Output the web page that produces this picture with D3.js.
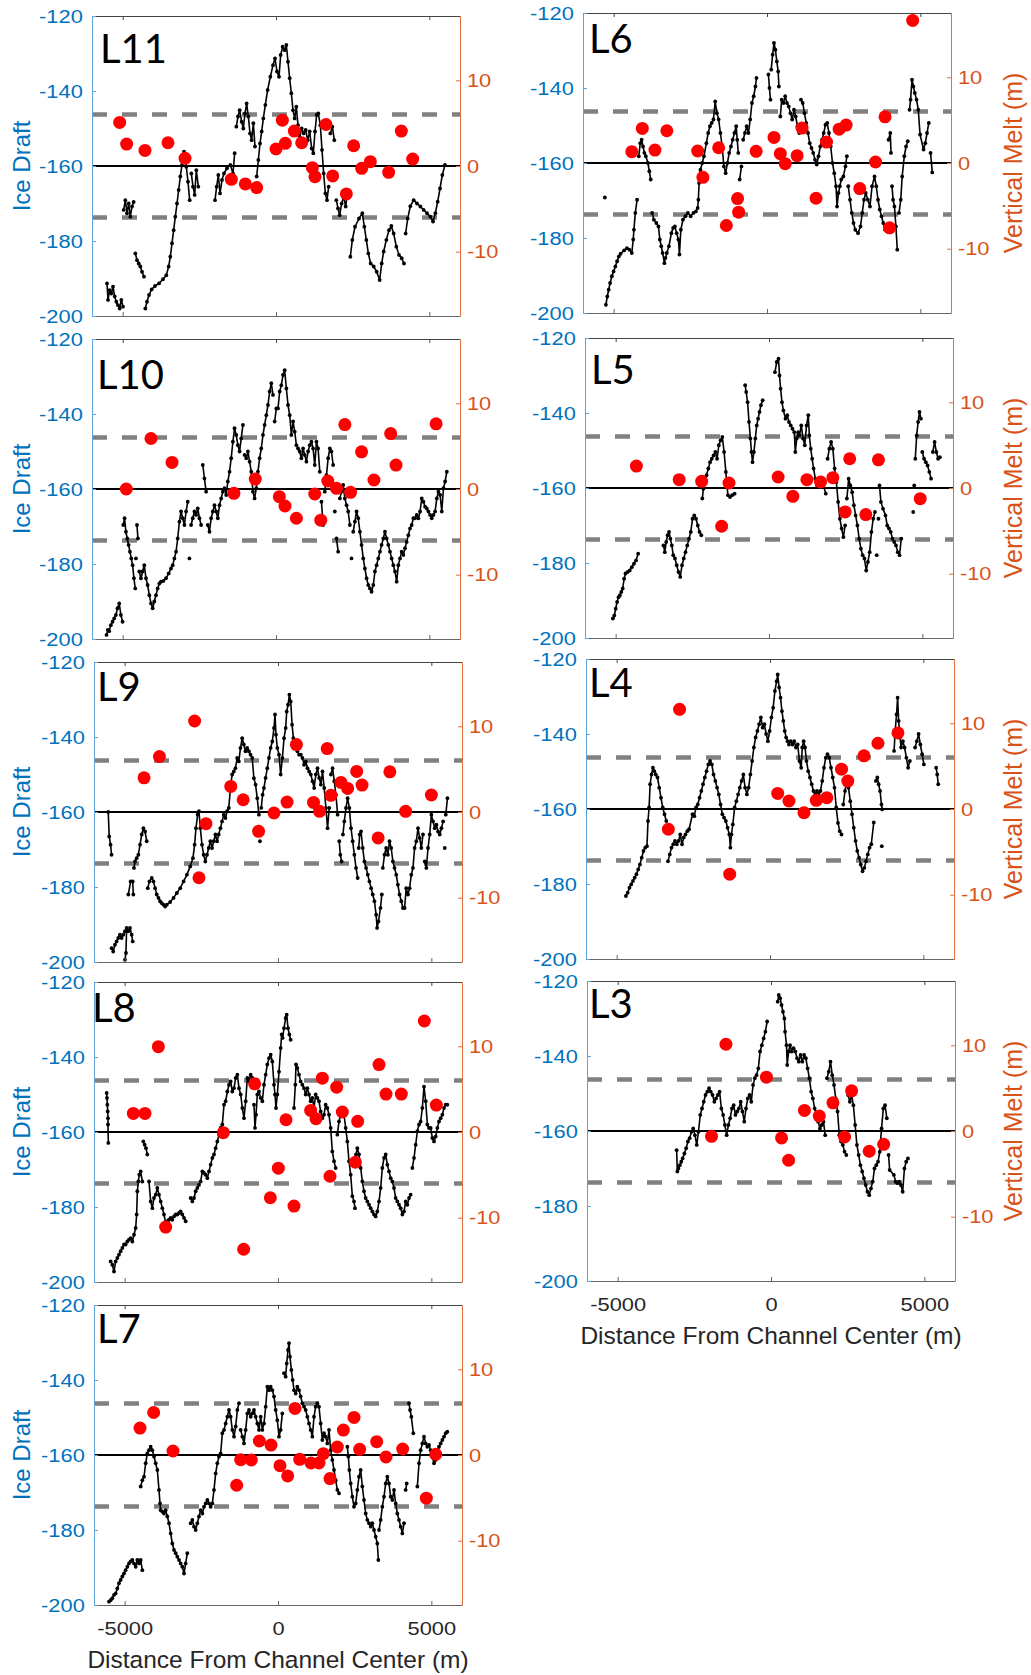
<!DOCTYPE html>
<html>
<head>
<meta charset="utf-8">
<script src="https://cdn.jsdelivr.net/npm/d3@7"></script>
<style>
  body { margin: 0; background: #fff; }
  svg text { font-family: "Liberation Sans", Arial, sans-serif; }
  svg text.tag { font-family: Lato, "Open Sans", sans-serif; }
</style>
</head>
<body>
<svg id="fig" width="1031" height="1675"></svg>
<script>
// ice draft profiles [distance m, draft m] and vertical melt points [distance m, melt m]
var l11Draft = [[-5511,-191.3],[-5478,-195.7],[-5424,-193.1],[-5370,-194],[-5315,-192.2],[-5261,-194.8],[-5207,-196.2],[-5152,-197.1],[-5098,-198],[-5044,-195.7],[-4989,-197.5],[-4968,-171.7],[-4913,-169.1],[-4859,-172.6],[-4805,-170],[-4750,-173.5],[-4696,-170.8],[-4641,-169.6],[-4587,-183.3],[-4533,-185.1],[-4478,-186],[-4424,-186.8],[-4370,-188.2],[-4304,-189.5],[-4261,-198],[-4207,-196.2],[-4141,-194.4],[-4054,-192.9],[-3946,-192],[-3815,-191.3],[-3685,-190.2],[-3576,-189.1],[-3500,-186.8],[-3446,-184.2],[-3391,-180.6],[-3337,-177.1],[-3283,-173.5],[-3228,-170],[-3174,-166.4],[-3120,-162.8],[-3065,-159.7],[-3000,-156.2],[-2924,-160.2],[-2870,-164.2],[-2815,-169.1],[-2761,-162],[-2707,-165.5],[-2652,-167.7],[-2598,-161.1],[-2533,-165.5],[-1989,-169.1],[-1935,-165.5],[-1881,-162.4],[-1826,-167.3],[-1761,-163.7],[-1696,-162],[-1598,-160.6],[-1489,-159.7],[-1402,-162],[-1348,-156.6],[-1294,-149.5],[-1239,-146.8],[-1185,-145.1],[-1120,-148.2],[-1065,-150],[-1011,-146],[-957,-143.3],[-902,-146.8],[-848,-151.3],[-794,-153.1],[-739,-148.6],[-685,-154.8],[-630,-162.8],[-576,-158.4],[-522,-154],[-467,-150.8],[-413,-147.3],[-348,-143.7],[-272,-139.7],[-185,-136.2],[-98,-133.1],[-33,-131.3],[33,-134.8],[98,-136.2],[152,-130.4],[217,-128.2],[283,-129.1],[337,-127.7],[391,-132.2],[446,-136.6],[500,-140.6],[554,-145.1],[609,-147.3],[663,-144.2],[717,-149.1],[772,-152.2],[837,-150],[902,-151.3],[967,-150.4],[1033,-153.1],[1098,-150.8],[1163,-155.3],[1217,-156.6],[1272,-150.8],[1326,-146.4],[1380,-146],[1446,-149.1],[1500,-155.7],[1554,-162],[1609,-167.3],[1663,-169.1],[1717,-165.5],[1772,-151.3],[1837,-149.5],[1902,-153.1],[1967,-169.1],[2022,-171.3],[2076,-173.1],[2141,-170],[2207,-168.2],[2272,-170.8],[2337,-166.8],[2424,-184.2],[2489,-179.7],[2576,-176.2],[2707,-174],[2815,-172.6],[2881,-176.2],[2946,-179.7],[3011,-183.3],[3087,-186],[3185,-186.8],[3283,-188.2],[3381,-190.4],[3446,-186],[3511,-182.8],[3598,-179.7],[3685,-177.1],[3761,-176],[3837,-178],[3924,-181.5],[4011,-183.7],[4098,-184.6],[4174,-186],[4228,-178],[4294,-174],[4381,-170.7],[4489,-169.1],[4598,-170],[4707,-170.8],[4815,-171.7],[4924,-172.6],[5033,-173.5],[5120,-174.8],[5196,-172.6],[5272,-169.5],[5348,-166],[5424,-162.4],[5511,-159.7]];
var l11Melt = [[-5098,5.08],[-4870,2.56],[-4272,1.82],[-3522,2.71],[-2967,0.89],[-1457,-1.55],[-1000,-2.09],[-630,-2.52],[0,1.98],[207,5.35],[304,2.64],[598,4.07],[837,2.71],[1185,-0.19],[1272,-1.24],[1630,4.84],[1848,-1.16],[2294,-3.26],[2533,2.36],[2794,-0.27],[3076,0.5],[3674,-0.74],[4087,4.07],[4457,0.81]];

var l10Draft = [[-5526,-198.9],[-5483,-197.6],[-5439,-197.9],[-5385,-196.3],[-5330,-195.4],[-5276,-194.5],[-5221,-193.6],[-5167,-191.8],[-5112,-190.5],[-5058,-193.6],[-5003,-195.4],[-4981,-169.6],[-4938,-167.8],[-4894,-171.4],[-4851,-173.2],[-4807,-174.9],[-4763,-176.7],[-4720,-178.5],[-4676,-180.3],[-4633,-183.8],[-4589,-186.5],[-4567,-178.5],[-4534,-169.6],[-4502,-173.2],[-4458,-182],[-4404,-183.8],[-4349,-182],[-4295,-180.3],[-4240,-183.8],[-4186,-185.6],[-4131,-188.3],[-4077,-190.5],[-4022,-191.8],[-3968,-190],[-3913,-188.3],[-3859,-186.5],[-3804,-185.2],[-3750,-184.7],[-3673,-184.5],[-3586,-183.8],[-3499,-182.5],[-3423,-181.2],[-3368,-180.3],[-3314,-178.5],[-3259,-176.7],[-3205,-173.2],[-3150,-168.7],[-3096,-166],[-3041,-167.8],[-2987,-169.6],[-2932,-166],[-2878,-163.4],[-2823,-178.5],[-2769,-169.6],[-2714,-167.8],[-2660,-166],[-2605,-166.9],[-2551,-165.2],[-2496,-167.8],[-2442,-169.6],[-2387,-153.6],[-2333,-157.2],[-2278,-160.7],[-2224,-169.6],[-2169,-171.4],[-2115,-167.8],[-2060,-166],[-2006,-164.3],[-1951,-166],[-1897,-167.8],[-1842,-164.3],[-1788,-162.5],[-1733,-160.7],[-1679,-159.8],[-1624,-161.6],[-1570,-158],[-1515,-155.4],[-1461,-151.8],[-1406,-147.4],[-1352,-143.8],[-1297,-145.6],[-1243,-148.3],[-1188,-150],[-1134,-146.5],[-1079,-142.9],[-1025,-150.9],[-970,-151.8],[-916,-150],[-861,-152.7],[-807,-155.4],[-752,-160.7],[-698,-162.5],[-643,-159.8],[-589,-155.4],[-534,-151.8],[-480,-149.2],[-425,-145.6],[-371,-142.9],[-316,-140.3],[-262,-137.6],[-207,-134],[-153,-131.8],[-98,-134.9],[-44,-142],[11,-138.5],[65,-138.5],[120,-134],[174,-132.3],[229,-129.6],[283,-128.3],[338,-133.2],[392,-137.6],[447,-140.3],[501,-145.6],[556,-142],[610,-144.7],[665,-148.3],[719,-149.2],[774,-150],[828,-151.8],[883,-149.2],[937,-150.9],[992,-152.7],[1046,-150],[1101,-148.3],[1155,-147.4],[1210,-149.2],[1264,-153.6],[1319,-147.4],[1373,-149.2],[1428,-155.4],[1482,-163.4],[1537,-169.6],[1591,-160.7],[1646,-156.3],[1700,-151.8],[1755,-149.2],[1809,-150],[1864,-153.6],[1918,-166],[1973,-173.2],[2027,-176.7],[2082,-162.5],[2136,-160.7],[2191,-158.9],[2245,-162.5],[2300,-164.3],[2354,-166],[2409,-169.6],[2463,-178.5],[2518,-171.4],[2572,-168.7],[2627,-166],[2681,-167.8],[2736,-171.4],[2790,-174.9],[2845,-178.5],[2899,-181.2],[2954,-183.8],[3008,-185.6],[3063,-186.5],[3117,-187.4],[3172,-185.6],[3226,-182],[3281,-180.3],[3335,-178.5],[3390,-176.7],[3444,-174.9],[3499,-173.2],[3553,-171.4],[3608,-173.2],[3662,-174.9],[3717,-176.7],[3771,-178.5],[3826,-180.3],[3880,-182],[3935,-184.7],[3989,-180.3],[4044,-178.5],[4098,-176.7],[4153,-177.6],[4207,-175.8],[4262,-174.1],[4316,-172.3],[4371,-170.5],[4425,-169.6],[4480,-167.8],[4534,-167.8],[4589,-166.9],[4643,-167.8],[4698,-166],[4752,-162.5],[4807,-163.4],[4861,-164.7],[4916,-165.2],[4970,-166],[5025,-166.9],[5079,-167.8],[5134,-166.9],[5188,-166],[5243,-162.5],[5297,-160.7],[5352,-161.6],[5406,-166],[5461,-159.8],[5515,-158],[5570,-155.4]];
var l10Melt = [[-4883,0],[-4077,5.89],[-3390,3.1],[-1373,-0.5],[-676,1.16],[109,-0.89],[294,-1.98],[665,-3.41],[1264,-0.58],[1461,-3.64],[1690,0.93],[1973,0.08],[2245,7.52],[2431,-0.39],[2790,4.34],[3194,1.05],[3739,6.47],[3913,2.79],[5221,7.6]];

var l9Draft = [[-5536,-160],[-5504,-166.5],[-5460,-168.7],[-5427,-171.4],[-5427,-196.3],[-5373,-197.2],[-5318,-195.4],[-5263,-194.5],[-5209,-193.6],[-5154,-192.7],[-5100,-193.6],[-5045,-192.7],[-4990,-191.8],[-4990,-199.4],[-4958,-197.6],[-4936,-190.9],[-4881,-191.8],[-4827,-190.9],[-4772,-192.7],[-4739,-194.5],[-4881,-182],[-4805,-178.5],[-4739,-178.5],[-4717,-182],[-4696,-174.9],[-4663,-173.2],[-4608,-172.3],[-4554,-171.4],[-4499,-168.7],[-4444,-166],[-4390,-164.3],[-4335,-165.2],[-4281,-167.8],[-4248,-180.3],[-4193,-178.5],[-4117,-177.6],[-4062,-178.5],[-4008,-180.3],[-3953,-182],[-3898,-182.9],[-3844,-183.8],[-3789,-184.3],[-3735,-184.7],[-3680,-185.2],[-3625,-184.7],[-3516,-184],[-3407,-182.9],[-3298,-181.6],[-3189,-180.3],[-3079,-178.5],[-2970,-176.7],[-2861,-174.5],[-2774,-172.3],[-2719,-168.7],[-2675,-164.3],[-2621,-160.7],[-2577,-159.8],[-2533,-164.3],[-2479,-168.7],[-2424,-171.4],[-2370,-173.2],[-2315,-171.4],[-2260,-169.6],[-2206,-167.8],[-2151,-169.6],[-2097,-167.8],[-2042,-166],[-1987,-167.8],[-1933,-166],[-1878,-164.3],[-1824,-162.5],[-1769,-160.7],[-1714,-161.6],[-1660,-159.8],[-1605,-158.9],[-1551,-153.6],[-1496,-150],[-1441,-149.2],[-1387,-148.3],[-1332,-145.6],[-1278,-146.5],[-1223,-142.9],[-1168,-140.3],[-1114,-142],[-1059,-143.8],[-1005,-142.9],[-950,-143.8],[-895,-144.7],[-841,-145.6],[-786,-151],[-732,-152.7],[-677,-156.3],[-622,-160.7],[-590,-167.8],[-546,-158.9],[-502,-155.4],[-459,-153.6],[-404,-150.9],[-349,-148.3],[-295,-145.6],[-240,-142.9],[-186,-141.2],[-131,-137.6],[-98,-134],[-66,-139.4],[-22,-142.9],[33,-144.7],[87,-150],[142,-145.6],[197,-140.3],[251,-137.6],[284,-133.2],[328,-131.4],[371,-128.7],[415,-130.5],[459,-136.7],[502,-140.3],[546,-142],[590,-142.9],[633,-143.8],[688,-144.7],[743,-144.7],[797,-145.6],[852,-147.4],[906,-146.5],[961,-148.3],[1016,-149.2],[1070,-150],[1125,-151.8],[1179,-153.6],[1234,-150],[1289,-148.3],[1343,-150.9],[1398,-152.7],[1452,-149.2],[1507,-153.6],[1562,-158.9],[1616,-164.3],[1671,-158.9],[1725,-150],[1780,-148.3],[1835,-151.8],[1889,-155.4],[1944,-160.7],[1998,-167.8],[2031,-171.4],[2075,-173.2],[2118,-166],[2162,-162.5],[2217,-158.9],[2271,-156.3],[2326,-158.9],[2381,-164.3],[2435,-167.8],[2490,-171.4],[2544,-174.9],[2599,-177.6],[2632,-169.6],[2664,-166],[2708,-165.2],[2763,-169.6],[2817,-173.2],[2872,-174.9],[2927,-176.7],[2981,-178.5],[3036,-180.3],[3090,-182],[3145,-183.8],[3200,-187.4],[3232,-190.9],[3276,-189.2],[3342,-185.6],[3385,-182],[3418,-174.9],[3473,-171.4],[3527,-169.6],[3582,-171.4],[3636,-167.8],[3691,-169.6],[3746,-173.2],[3800,-174.9],[3855,-176.7],[3909,-179.4],[3964,-182],[4019,-183.8],[4073,-185.6],[4128,-185.6],[4182,-180.3],[4237,-182],[4292,-180.3],[4346,-176.7],[4401,-174.9],[4455,-169.6],[4510,-167.8],[4565,-164.3],[4619,-166.9],[4674,-169.6],[4728,-166],[4783,-173.2],[4838,-174.9],[4892,-169.6],[4947,-166],[5001,-160.7],[5056,-162.5],[5111,-164.3],[5165,-163.4],[5220,-165.2],[5274,-166],[5329,-164.3],[5384,-162.5],[5438,-169.6],[5471,-160.7],[5526,-156.3]];
var l9Melt = [[-4368,3.99],[-3866,6.47],[-2719,10.62],[-2577,-7.67],[-2348,-1.36],[-1540,2.98],[-1136,1.43],[-633,-2.25],[-131,-0.12],[295,1.16],[601,7.87],[1158,1.12],[1354,0.08],[1605,7.4],[1725,1.94],[2053,3.45],[2271,2.75],[2566,4.73],[2741,3.14],[3265,-3.02],[3647,4.69],[4161,0.08],[5001,1.98]];

var l8Draft = [[-5587,-149.6],[-5576,-150.9],[-5565,-152.7],[-5554,-154.5],[-5544,-156.3],[-5544,-158],[-5533,-162.9],[-5457,-194.5],[-5402,-195.4],[-5348,-197.2],[-5294,-194.5],[-5239,-193.6],[-5185,-192.7],[-5131,-191.8],[-5076,-190.9],[-5022,-190],[-4968,-190],[-4913,-189.2],[-4859,-188.7],[-4805,-188.3],[-4750,-189.2],[-4696,-187.4],[-4641,-185.6],[-4609,-182],[-4587,-175.8],[-4555,-173.2],[-4522,-171.4],[-4478,-170.5],[-4424,-173.2],[-4391,-162.5],[-4348,-163.4],[-4305,-164.3],[-4261,-166],[-4207,-173.2],[-4152,-178.5],[-4098,-180.3],[-4044,-177.6],[-3989,-176.7],[-3935,-174.9],[-3881,-176.7],[-3826,-178.5],[-3772,-180.3],[-3718,-182],[-3663,-184.3],[-3609,-183.8],[-3554,-183.4],[-3500,-182.9],[-3446,-183.4],[-3391,-182.5],[-3337,-182],[-3283,-182],[-3228,-181.6],[-3174,-181.2],[-3120,-182],[-3065,-182.9],[-3011,-183.8],[-2848,-177.6],[-2794,-178.5],[-2739,-177.6],[-2685,-175.8],[-2631,-174.9],[-2576,-174.1],[-2522,-173.2],[-2467,-170.5],[-2413,-170.9],[-2359,-171.4],[-2304,-172.3],[-2250,-170.5],[-2196,-168.7],[-2141,-166.9],[-2087,-166],[-2033,-164.3],[-1978,-162.5],[-1924,-160.7],[-1870,-158.9],[-1815,-158],[-1761,-152.7],[-1707,-151.8],[-1652,-149.2],[-1598,-147.4],[-1544,-146.5],[-1489,-149.2],[-1435,-148.3],[-1380,-145.6],[-1326,-144.7],[-1272,-148.3],[-1217,-150],[-1163,-153.6],[-1109,-156.3],[-1054,-151.8],[-1000,-145.6],[-946,-146.5],[-891,-144.7],[-837,-145.6],[-783,-152.7],[-750,-158.9],[-717,-155.4],[-674,-150],[-620,-149.2],[-565,-150.9],[-511,-151.8],[-457,-147.4],[-402,-144.7],[-348,-142],[-293,-140.3],[-239,-139.4],[-185,-141.2],[-130,-147.4],[-98,-150],[-65,-153.6],[-22,-150],[33,-143.9],[87,-137.6],[120,-134],[152,-134.9],[196,-132.3],[250,-129.6],[283,-128.7],[326,-132.3],[370,-134],[413,-135.4],[522,-153.6],[565,-147.4],[587,-142],[630,-142.9],[685,-144.7],[739,-146.5],[794,-147.4],[848,-148.3],[902,-150],[957,-148.3],[1011,-150],[1065,-151.8],[1120,-150.9],[1174,-153.6],[1228,-150],[1283,-150.9],[1337,-151.8],[1391,-154.5],[1446,-156.3],[1500,-155.4],[1554,-152.7],[1609,-153.6],[1663,-155.4],[1717,-158.9],[1772,-165.2],[1826,-167.8],[1881,-169.6],[1935,-160.7],[1989,-157.2],[2044,-155.4],[2098,-154.5],[2152,-155.4],[2207,-158.9],[2261,-162.5],[2315,-167.8],[2370,-171.4],[2424,-177.1],[2478,-178.5],[2511,-180.3],[2544,-166],[2587,-164.3],[2641,-166],[2696,-169.6],[2750,-173.2],[2804,-175.8],[2859,-177.6],[2913,-178.5],[2968,-179.4],[3022,-180.3],[3076,-181.2],[3131,-182],[3185,-182.5],[3239,-181.2],[3294,-178.5],[3348,-174.9],[3402,-169.6],[3457,-166.9],[3511,-166],[3565,-168.7],[3620,-170.5],[3674,-172.3],[3728,-173.2],[3783,-174.9],[3837,-177.6],[3891,-178.5],[3946,-179.4],[4000,-180.3],[4055,-182],[4109,-181.2],[4163,-178.5],[4218,-179.4],[4272,-177.6],[4326,-176.7],[4381,-169.6],[4435,-166.9],[4489,-163.4],[4544,-159.8],[4598,-158],[4652,-157.2],[4707,-153.6],[4761,-147.9],[4815,-151.8],[4870,-158],[4924,-158.9],[4978,-158.9],[5033,-161.6],[5087,-162.5],[5142,-161.2],[5196,-158.9],[5250,-157.2],[5305,-156.3],[5359,-155.4],[5413,-153.6],[5468,-152.7],[5522,-152.7]];
var l8Melt = [[-4718,2.17],[-4337,2.17],[-3902,9.96],[-3663,-11.09],[-1783,-0.08],[-1120,-13.68],[-761,5.62],[-250,-7.67],[11,-4.22],[261,1.43],[522,-8.64],[1065,2.52],[1239,1.55],[1446,6.28],[1696,-5.16],[1913,5.23],[2098,2.33],[2522,-3.53],[2598,1.24],[3294,7.87],[3522,4.42],[4022,4.42],[4772,12.95],[5163,3.14]];

var l7Draft = [[-5511,-199.1],[-5457,-198.7],[-5402,-198.2],[-5348,-197.3],[-5294,-196.9],[-5239,-195.6],[-5185,-194.2],[-5131,-193.3],[-5076,-192.4],[-5022,-191.6],[-4968,-190.7],[-4913,-189.8],[-4859,-188.9],[-4805,-188.4],[-4750,-188],[-4696,-188.9],[-4641,-189.8],[-4587,-188],[-4533,-188.9],[-4478,-188],[-4424,-190.7],[-4478,-168.4],[-4424,-166.7],[-4370,-165.8],[-4315,-162.2],[-4261,-159.6],[-4207,-158.7],[-4152,-157.8],[-4098,-158.7],[-4044,-160.4],[-3989,-162.2],[-3935,-164],[-3881,-169.3],[-3848,-172.9],[-3826,-174.7],[-3772,-175.1],[-3718,-175.6],[-3663,-174.7],[-3609,-176.4],[-3554,-178.2],[-3500,-180.9],[-3446,-183.6],[-3391,-185.3],[-3337,-186.2],[-3283,-187.1],[-3228,-188],[-3174,-188.9],[-3120,-189.8],[-3065,-191.6],[-3011,-188.9],[-2957,-186.2],[-2848,-178.2],[-2794,-177.3],[-2739,-179.1],[-2685,-180],[-2631,-178.2],[-2576,-176.4],[-2522,-174.7],[-2467,-175.6],[-2413,-173.8],[-2359,-172.9],[-2304,-172],[-2250,-172.9],[-2196,-173.8],[-2141,-172.9],[-2087,-169.3],[-2033,-164.9],[-1978,-162.2],[-1924,-160.4],[-1870,-159.6],[-1815,-154.2],[-1761,-153.3],[-1707,-151.6],[-1652,-149.8],[-1598,-148],[-1544,-149.8],[-1489,-153.3],[-1435,-155.1],[-1380,-152.4],[-1326,-148],[-1272,-146.2],[-1217,-153.3],[-1163,-155.1],[-1109,-156.9],[-1054,-153.3],[-1000,-148.9],[-946,-148],[-891,-149.8],[-837,-148.9],[-783,-148],[-728,-149.8],[-674,-151.6],[-620,-153.3],[-565,-149.8],[-511,-153.3],[-457,-151.6],[-402,-147.1],[-348,-141.8],[-293,-142.7],[-239,-141.8],[-185,-142.7],[-130,-144.4],[-76,-148],[-22,-150.7],[33,-155.1],[87,-153.3],[141,-148.9],[196,-138.2],[250,-139.1],[283,-135.6],[326,-132],[359,-130.2],[391,-133.8],[435,-137.3],[478,-140],[522,-142.7],[576,-143.6],[630,-141.8],[685,-142.7],[739,-144.4],[794,-146.2],[848,-147.1],[902,-148],[957,-149.8],[1011,-151.6],[1065,-153.3],[1120,-155.1],[1174,-149.8],[1228,-147.1],[1283,-146.2],[1337,-147.1],[1391,-151.6],[1446,-156],[1500,-154.2],[1554,-155.1],[1609,-156.9],[1663,-153.3],[1717,-158.7],[1772,-161.3],[1826,-164],[1881,-166.7],[1935,-169.3],[1989,-170.2],[2261,-157.8],[2294,-160.4],[2326,-164],[2370,-167.6],[2424,-171.1],[2478,-173.8],[2533,-172.9],[2587,-169.3],[2641,-165.8],[2696,-164],[2750,-168.4],[2804,-172],[2859,-175.6],[2913,-177.3],[2968,-178.2],[3022,-179.1],[3076,-178.2],[3131,-180],[3185,-181.8],[3239,-183.6],[3272,-188],[3294,-180],[3348,-177.3],[3402,-173.8],[3457,-171.1],[3511,-167.6],[3565,-165.8],[3620,-167.6],[3674,-171.1],[3728,-172],[3783,-169.3],[3837,-172.9],[3891,-175.6],[3946,-177.3],[4000,-179.1],[4055,-180.9],[4109,-178.2],[4163,-169.3],[4196,-167.6],[4272,-146.2],[4305,-148],[4348,-149.8],[4413,-154.2],[4544,-168.4],[4598,-162.2],[4652,-158.7],[4707,-156.9],[4761,-155.1],[4815,-156.9],[4870,-157.8],[4924,-157.3],[4978,-158.7],[5033,-160.4],[5087,-162.2],[5142,-161.3],[5196,-159.6],[5250,-157.8],[5305,-156.9],[5359,-156],[5413,-155.1],[5468,-154.2],[5522,-153.8]];
var l7Melt = [[-4500,3.14],[-4055,4.96],[-3424,0.47],[-1348,-3.53],[-1217,-0.54],[-870,-0.58],[-609,1.63],[-228,1.16],[65,-1.24],[315,-2.44],[554,5.43],[707,-0.5],[1076,-0.93],[1337,-0.93],[1478,0.16],[1696,-2.75],[1935,0.93],[2131,2.91],[2478,4.38],[2663,0.66],[3218,1.55],[3522,-0.23],[4065,0.7],[4837,-5.04],[5142,0.08]];

var l6Draft = [[-5287,-169.2],[-5253,-197.8],[-5208,-195.6],[-5162,-193.8],[-5116,-192],[-5059,-190.2],[-5002,-188.9],[-4945,-187.6],[-4888,-186.2],[-4831,-184.9],[-4774,-184.2],[-4659,-183.3],[-4568,-182.7],[-4488,-183.1],[-4408,-184],[-4362,-180.4],[-4340,-177.8],[-4294,-173.3],[-4237,-169.8],[-4180,-158.2],[-4134,-154.7],[-4088,-153.8],[-4043,-155.6],[-3997,-157.3],[-3951,-158.2],[-3883,-160],[-3837,-162.2],[-3791,-164.4],[-3746,-173.3],[-3689,-175.1],[-3609,-176],[-3540,-176.9],[-3495,-180.4],[-3449,-182.2],[-3403,-184],[-3346,-186.7],[-3312,-185.3],[-3266,-184],[-3198,-182.2],[-3118,-178.7],[-3061,-177.3],[-3003,-176.9],[-2946,-178.7],[-2889,-180.4],[-2855,-184.4],[-2809,-177.8],[-2741,-175.1],[-2661,-174.2],[-2581,-173.3],[-2490,-174.2],[-2398,-173.3],[-2318,-172.9],[-2261,-172],[-2238,-169.8],[-2215,-165.3],[-2170,-161.8],[-2113,-160],[-2056,-158.2],[-1976,-154.7],[-1919,-152],[-1861,-150.2],[-1804,-149.3],[-1747,-148.4],[-1690,-143.6],[-1633,-146.7],[-1576,-148.4],[-1519,-152],[-1462,-155.6],[-1405,-160.9],[-1348,-162.7],[-1290,-160],[-1233,-157.3],[-1176,-155.6],[-1119,-153.8],[-1062,-152],[-1005,-150.2],[-971,-153.8],[-936,-157.3],[-891,-164.4],[-834,-160.9],[-777,-153.8],[-719,-152],[-662,-150.2],[-605,-152],[-548,-148.4],[-491,-144],[-434,-142.2],[-377,-139.6],[-343,-137.3],[46,-136.4],[80,-140],[114,-143.1],[137,-135.1],[183,-131.1],[228,-128],[274,-129.8],[320,-132.9],[365,-135.6],[388,-139.6],[434,-147.6],[480,-143.1],[537,-144],[594,-142.2],[651,-144],[708,-144.9],[765,-146.7],[822,-148.4],[879,-145.8],[936,-147.6],[994,-150.2],[1051,-152],[1108,-143.1],[1165,-144],[1222,-146.7],[1279,-149.3],[1336,-152],[1393,-154.7],[1450,-156],[1507,-157.3],[1565,-159.1],[1622,-160.4],[1679,-158.2],[1736,-155.6],[1793,-153.8],[1850,-152],[1907,-149.8],[1964,-149.3],[2021,-152],[2078,-155.6],[2136,-160],[2193,-162.7],[2250,-166.2],[2284,-171.6],[2330,-168],[2375,-166.2],[2421,-164.4],[2490,-163.6],[2558,-160.9],[2604,-158.2],[2649,-166.2],[2707,-169.8],[2764,-173.3],[2821,-176],[2878,-177.8],[2969,-178.7],[3049,-176.9],[3106,-173.3],[3163,-169.8],[3220,-168],[3289,-169.8],[3357,-171.6],[3426,-166.2],[3506,-163.6],[3563,-166.2],[3620,-169.8],[3677,-172.4],[3734,-174.2],[3791,-176],[3849,-177.8],[3906,-176.9],[3963,-153.8],[4020,-152],[4043,-157.3],[4077,-166.2],[4111,-169.8],[4157,-171.6],[4203,-176.9],[4248,-183.1],[4305,-173.3],[4362,-169.8],[4408,-163.6],[4477,-158.2],[4534,-155.6],[4591,-154.2],[4648,-145.8],[4682,-143.1],[4728,-137.8],[4774,-139.6],[4819,-141.3],[4876,-143.1],[4933,-145.8],[4991,-152.4],[5105,-156.4],[5162,-154.7],[5219,-152],[5276,-149.3],[5333,-157.3],[5390,-162.5]];
var l6Melt = [[-4408,1.32],[-4066,4.03],[-3654,1.51],[-3266,3.76],[-2261,1.4],[-2090,-1.67],[-1576,1.78],[-1325,-7.29],[-959,-4.15],[-925,-5.74],[-354,1.36],[228,2.98],[434,1.09],[594,-0.08],[982,0.85],[1142,4.07],[1599,-4.11],[1941,2.44],[2353,3.95],[2581,4.42],[3026,-2.98],[3540,0.12],[3849,5.39],[3997,-7.56],[4751,16.63]];

var l5Draft = [[-5091,-194.8],[-5045,-194],[-4999,-192.2],[-4954,-190.4],[-4908,-189.1],[-4862,-188.6],[-4816,-187.7],[-4770,-186.8],[-4725,-184.2],[-4679,-182.8],[-4610,-182.4],[-4542,-182],[-4473,-181.1],[-4404,-180.2],[-4336,-179.3],[-4267,-177.5],[-3443,-175.3],[-3398,-177.1],[-3352,-174.4],[-3306,-172.6],[-3260,-171.7],[-3215,-173.5],[-3169,-175.3],[-3123,-177.9],[-3066,-178.8],[-3009,-180.6],[-2952,-182.4],[-2894,-183.7],[-2837,-180.6],[-2780,-178.8],[-2723,-177.1],[-2666,-175.3],[-2608,-173.5],[-2551,-171.7],[-2494,-168.2],[-2437,-167.3],[-2380,-168.2],[-2322,-170],[-2265,-171.7],[-2208,-172.6],[-2174,-162.8],[-2139,-160.2],[-2094,-158.4],[-2036,-156.6],[-1979,-154.8],[-1922,-153.1],[-1865,-152.2],[-1808,-151.3],[-1750,-150.4],[-1693,-152.2],[-1636,-148.6],[-1579,-147.3],[-1522,-146.4],[-1464,-150.4],[-1407,-155.7],[-1373,-159.3],[-1338,-161.9],[-1270,-162.4],[-1201,-161.9],[-1121,-161.5],[-778,-132.6],[-744,-134.4],[-698,-137.1],[-652,-142.4],[-606,-146.8],[-572,-150.4],[-538,-153.1],[-492,-150.4],[-446,-146.8],[-400,-143.3],[-355,-141.5],[-309,-139.7],[-263,-137.9],[-206,-136.6],[194,-129.1],[252,-126.4],[309,-125.5],[343,-130],[378,-133.5],[423,-137.1],[469,-139.3],[538,-141.5],[595,-140.6],[652,-142.4],[709,-143.3],[766,-144.2],[824,-145.1],[858,-150.4],[904,-146.8],[950,-145.1],[995,-146],[1052,-143.3],[1110,-146.8],[1167,-148.6],[1224,-143.3],[1281,-140.6],[1316,-146],[1361,-149.5],[1407,-152.2],[1453,-154.8],[1510,-157.5],[1567,-159.3],[1624,-158.4],[1682,-157.5],[1739,-158.4],[1853,-161.5],[1910,-152.2],[1968,-149.5],[2025,-147.7],[2082,-149.5],[2139,-154.8],[2196,-158.4],[2254,-163.7],[2311,-168.2],[2368,-170.8],[2425,-173.1],[2482,-170],[2540,-162.8],[2597,-157.5],[2654,-159.3],[2711,-161.1],[2768,-164.6],[2826,-167.3],[2883,-170],[2940,-173.5],[2997,-176.2],[3054,-177.9],[3112,-178.8],[3169,-182],[3226,-179.7],[3283,-177.1],[3340,-171.7],[3398,-168.2],[3455,-166.4],[3512,-177.9],[3569,-168.2],[3604,-159.3],[3649,-163.7],[3718,-165.5],[3798,-167.3],[3855,-170],[3912,-170.8],[3970,-171.7],[4027,-173.5],[4084,-174.4],[4141,-175.3],[4198,-177.1],[4256,-177.9],[4313,-173.5],[4702,-166.4],[4736,-159.3],[4770,-152.2],[4816,-146],[4862,-142.4],[4908,-139.7],[4954,-141.5],[4999,-150.4],[5056,-152.2],[5114,-153.1],[5171,-154],[5228,-155.7],[5285,-157.5],[5342,-150.4],[5400,-147.7],[5457,-150.4],[5514,-152.2],[5571,-151.8]];
var l5Melt = [[-4324,2.56],[-2929,0.97],[-2196,0.78],[-1304,0.58],[-1544,-4.46],[297,1.28],[778,-0.97],[1236,0.97],[1682,0.7],[2082,1.2],[2482,-2.79],[2631,3.41],[3157,-3.1],[3569,3.29],[4931,-1.24]];

var l4Draft = [[-4698,-183.2],[-4641,-182.3],[-4583,-181],[-4526,-180.1],[-4469,-179.2],[-4412,-178.3],[-4355,-177.4],[-4298,-176.1],[-4241,-174.8],[-4183,-173],[-4126,-171.2],[-4069,-170.3],[-4012,-169.9],[-3978,-163.2],[-3943,-159.6],[-3909,-153.4],[-3863,-150.8],[-3818,-149],[-3772,-149.9],[-3726,-150.8],[-3669,-151.6],[-3612,-154.3],[-3555,-157],[-3498,-159.6],[-3440,-161.4],[-3383,-163.2],[-3326,-173.9],[-3269,-172.1],[-3212,-170.3],[-3155,-169.4],[-3098,-168.5],[-3040,-169.4],[-2983,-168.5],[-2926,-166.8],[-2869,-169.4],[-2812,-167.6],[-2755,-166.8],[-2697,-165.9],[-2640,-165.4],[-2526,-161.4],[-2469,-161.9],[-2412,-159.6],[-2355,-158.8],[-2297,-157],[-2240,-155.2],[-2183,-153.4],[-2126,-151.6],[-2069,-149.9],[-2012,-148.1],[-1955,-147.2],[-1897,-148.1],[-1840,-150.8],[-1783,-152.5],[-1726,-154.3],[-1669,-156.1],[-1612,-158.8],[-1554,-161.4],[-1497,-162.3],[-1440,-163.2],[-1383,-165],[-1326,-166.8],[-1292,-170.3],[-1257,-166.8],[-1212,-164.1],[-1154,-159.6],[-1097,-157.9],[-1040,-156.1],[-983,-154.3],[-926,-152.5],[-869,-150.8],[-812,-154.3],[-754,-156.1],[-697,-154.3],[-640,-150.8],[-583,-147.2],[-526,-143.6],[-469,-140.9],[-411,-139.2],[-354,-137.4],[-297,-135.6],[-240,-138.3],[-183,-137.4],[-126,-140],[-69,-141.9],[-11,-139.2],[46,-135.6],[103,-133],[160,-128.5],[217,-125.9],[251,-124.1],[297,-127.6],[343,-130.3],[389,-133.9],[434,-136.5],[480,-139.2],[526,-140.9],[572,-141.9],[617,-142.8],[674,-141.9],[732,-142.8],[789,-141.9],[846,-143.6],[903,-142.8],[960,-147.2],[1017,-149],[1052,-143.6],[1097,-141.9],[1143,-143.6],[1189,-147.2],[1246,-149.9],[1303,-151.6],[1360,-153.4],[1417,-155.2],[1474,-156.1],[1532,-155.2],[1589,-156.1],[1646,-155.2],[1703,-152.5],[1760,-149],[1817,-146.3],[1875,-145.4],[1932,-146.3],[1989,-149],[2046,-151.6],[2103,-154.3],[2160,-159.6],[2217,-163.7],[2275,-165.9],[2332,-166.8],[2389,-158.8],[2446,-155.2],[2503,-152.5],[2560,-154.3],[2617,-157.9],[2675,-161.4],[2732,-165],[2789,-168.5],[2846,-171.2],[2903,-173],[2960,-174.8],[3018,-176.6],[3075,-175.7],[3132,-173.9],[3189,-172.1],[3246,-170.3],[3303,-169.4],[3383,-163.6],[3452,-152.5],[3498,-151.6],[3543,-153.4],[3589,-155.2],[3635,-158.8],[3658,-160.1],[3646,-169.9],[4046,-144.5],[4081,-139.2],[4126,-134.8],[4161,-130.3],[4195,-136.5],[4241,-140.9],[4275,-143.6],[4332,-141.9],[4389,-143.6],[4446,-146.3],[4503,-149],[4561,-147.2],[4732,-143.6],[4789,-141.9],[4846,-140],[4903,-142.8],[4961,-145.4],[5018,-148.1],[5418,-149],[5452,-150.8],[5486,-153.4]];
var l4Melt = [[-3315,-2.36],[-2949,11.63],[-1314,-7.6],[251,1.82],[617,0.93],[1109,-0.43],[1509,1.01],[1852,1.32],[2332,4.65],[2537,3.26],[3063,6.2],[3520,7.67],[4172,8.88]];

var l3Draft = [[-3077,-165.1],[-3054,-170.8],[-3019,-170],[-2973,-169.1],[-2927,-168.2],[-2881,-167.3],[-2824,-166],[-2767,-164.6],[-2709,-162.8],[-2652,-161.9],[-2594,-160.2],[-2537,-159.3],[-2480,-161.1],[-2422,-163.7],[-2365,-160.2],[-2307,-155.7],[-2250,-154],[-2193,-152.2],[-2135,-150.4],[-2078,-149.5],[-2020,-148.6],[-1963,-149.5],[-1906,-150.4],[-1848,-152.2],[-1791,-151.3],[-1733,-150.4],[-1676,-149.5],[-1619,-154],[-1561,-155.7],[-1504,-158.4],[-1446,-161.1],[-1389,-158.4],[-1332,-156.6],[-1274,-154],[-1217,-153.1],[-1159,-155.7],[-1102,-154.8],[-1045,-154],[-987,-152.2],[-930,-154.8],[-872,-157.5],[-815,-154],[-758,-151.3],[-700,-150.4],[-643,-152.2],[-585,-147.7],[-528,-145.9],[-471,-145.1],[-413,-143.3],[-356,-138.8],[-298,-137.1],[-241,-135.3],[-184,-133.5],[-126,-130.8],[218,-125.5],[253,-123.7],[298,-124.6],[344,-126.4],[390,-128.2],[436,-130],[459,-133.5],[505,-137.1],[528,-142.4],[574,-138.8],[620,-137.1],[677,-138.8],[735,-137.9],[792,-138.8],[850,-140.6],[907,-141.5],[964,-139.7],[1022,-141.5],[1079,-139.7],[1137,-140.6],[1194,-143.3],[1251,-145.9],[1309,-149.5],[1366,-151.3],[1424,-154],[1481,-155.7],[1538,-157.5],[1596,-159.3],[1653,-158.4],[1711,-157.5],[1768,-161.1],[1825,-145.9],[1883,-144.2],[1940,-141.5],[1998,-145.1],[2055,-147.7],[2112,-151.3],[2170,-154.8],[2227,-161.1],[2285,-162.8],[2342,-163.7],[2399,-165.5],[2457,-166.4],[2514,-150.4],[2572,-152.2],[2629,-150.4],[2686,-153.1],[2744,-158.4],[2801,-163.7],[2859,-166.4],[2916,-169.1],[2973,-170.8],[3031,-172.6],[3088,-174.4],[3146,-176.2],[3203,-177.1],[3260,-175.3],[3318,-173.5],[3375,-170],[3433,-169.1],[3490,-168.2],[3547,-165.5],[3605,-159.3],[3662,-154],[3720,-153.1],[3777,-156.6],[3834,-166.4],[3869,-170.4],[4007,-171.7],[4064,-173.5],[4121,-173.9],[4179,-173.5],[4236,-174.4],[4294,-176.2],[4351,-170],[4408,-168.2],[4466,-167.3]];
var l3Melt = [[-1940,-0.62],[-1469,10.12],[-149,6.28],[344,-0.81],[574,-3.41],[1091,2.4],[1573,1.74],[2020,3.29],[2399,-0.7],[2629,4.69],[3203,-2.36],[3674,-1.55]];

// axis ticks and reference lines (melt = +/-6 m)
var xTicks = [-5000, 0, 5000];
var draftTicks = [-200, -180, -160, -140, -120];
var meltTicks = [-10, 0, 10];
var meltRefs = [-6, 6];

// panel layout: column 0 = left (Ice Draft label), column 1 = right (Vertical Melt label)
var panels = [
  {name: 'L11', draft: l11Draft, melt: l11Melt, col: 0, left: 92, top: 16, tagX: 100, tagY: 63, xLabels: false},
  {name: 'L10', draft: l10Draft, melt: l10Melt, col: 0, left: 92, top: 339, tagX: 97, tagY: 389, xLabels: false},
  {name: 'L9', draft: l9Draft, melt: l9Melt, col: 0, left: 94, top: 662, tagX: 97, tagY: 701, xLabels: false},
  {name: 'L8', draft: l8Draft, melt: l8Melt, col: 0, left: 94, top: 982, tagX: 92, tagY: 1022, xLabels: false},
  {name: 'L7', draft: l7Draft, melt: l7Melt, col: 0, left: 94, top: 1305, tagX: 97, tagY: 1343, xLabels: true},
  {name: 'L6', draft: l6Draft, melt: l6Melt, col: 1, left: 583, top: 13, tagX: 589, tagY: 53, xLabels: false},
  {name: 'L5', draft: l5Draft, melt: l5Melt, col: 1, left: 585, top: 338, tagX: 591, tagY: 384, xLabels: false},
  {name: 'L4', draft: l4Draft, melt: l4Melt, col: 1, left: 586, top: 659, tagX: 589, tagY: 697, xLabels: false},
  {name: 'L3', draft: l3Draft, melt: l3Melt, col: 1, left: 587, top: 981, tagX: 589, tagY: 1018, xLabels: true}
];

var W = 368, H = 300;
var BLUE = '#0072BD', ORANGE = '#D95319', DARK = '#262626';

var svg = d3.select('#fig');
var x = d3.scaleLinear().domain([-6000, 6000]).range([0, W]);
var yDraft = d3.scaleLinear().domain([-200, -120]).range([H, 0]);
var yMelt = d3.scaleLinear().domain([-17.5, 17.5]).range([H, 0]);

// shared look for tick labels (matlab export is a bit stretched horizontally)
function styleAxis(sel, lineColor, textColor) {
  sel.attr('font-size', 19).attr('font-family', null);
  sel.select('.domain').attr('stroke', lineColor).attr('stroke-width', 1);
  sel.selectAll('.tick line').attr('stroke', lineColor);
  sel.selectAll('.tick text').attr('fill', textColor).attr('transform', 'scale(1.15,1)');
}

// split a profile into runs of neighbouring readings so the trace isn't drawn across gaps
function runs(points) {
  var out = [], cur = [];
  points.forEach(function (d, i) {
    var prev = points[i - 1];
    if (prev && (d[0] - prev[0] > 160 || d[0] < prev[0] || Math.abs(d[1] - prev[1]) > 7)) {
      out.push(cur);
      cur = [];
    }
    cur.push(d);
  });
  out.push(cur);
  return out.filter(function (r) { return r.length > 1; });
}

var trace = d3.line()
    .x(function (d) { return x(d[0]); })
    .y(function (d) { return yDraft(d[1]); });

panels.forEach(function (p) {
  var g = svg.append('g').attr('transform', 'translate(' + p.left + ',' + p.top + ')');

  // dashed +/-6 m lines and the zero melt line
  g.selectAll('line.ref').data(meltRefs).join('line')
      .attr('class', 'ref')
      .attr('x1', 0).attr('x2', W)
      .attr('y1', function (d) { return yMelt(d); })
      .attr('y2', function (d) { return yMelt(d); })
      .attr('stroke', '#808080').attr('stroke-width', 4.5)
      .attr('stroke-dasharray', '15,15');
  g.append('line')
      .attr('x1', 0).attr('x2', W)
      .attr('y1', yMelt(0)).attr('y2', yMelt(0))
      .attr('stroke', '#000').attr('stroke-width', 2);

  // ice draft points, with a thin trace through neighbouring readings
  g.append('g').selectAll('path').data(runs(p.draft)).join('path')
      .attr('d', trace)
      .attr('fill', 'none')
      .attr('stroke', '#000')
      .attr('stroke-width', 1.6)
      .attr('stroke-linejoin', 'round');
  g.append('g').selectAll('circle').data(p.draft).join('circle')
      .attr('cx', function (d) { return x(d[0]); })
      .attr('cy', function (d) { return yDraft(d[1]); })
      .attr('r', 1.9)
      .attr('fill', '#000');

  // vertical melt points
  g.append('g').selectAll('circle').data(p.melt).join('circle')
      .attr('cx', function (d) { return x(d[0]); })
      .attr('cy', function (d) { return yMelt(d[1]); })
      .attr('r', 6.5)
      .attr('fill', '#ff0000');

  // axes box
  g.append('g')
      .call(d3.axisTop(x).tickValues(xTicks).tickSize(-4).tickSizeOuter(0).tickFormat(''))
      .call(styleAxis, '#444', DARK);
  g.append('g')
      .attr('transform', 'translate(0,' + H + ')')
      .call(d3.axisBottom(x).tickValues(xTicks).tickSize(-4).tickSizeOuter(0).tickPadding(17)
        .tickFormat(p.xLabels ? function (d) { return String(d); } : ''))
      .call(styleAxis, '#666', DARK);
  g.append('g')
      .call(d3.axisLeft(yDraft).tickValues(draftTicks).tickSize(-4).tickSizeOuter(0).tickPadding(8)
        .tickFormat(function (d) { return String(d); }))
      .call(styleAxis, '#5da2d8', BLUE);
  g.append('g')
      .attr('transform', 'translate(' + W + ',0)')
      .call(d3.axisRight(yMelt).tickValues(meltTicks).tickSize(-4).tickSizeOuter(0).tickPadding(6)
        .tickFormat(function (d) { return String(d); }))
      .call(styleAxis, '#e0703f', ORANGE);

  // line tag
  svg.append('text').attr('class', 'tag')
      .attr('x', p.tagX).attr('y', p.tagY)
      .style('font-size', '40px').attr('fill', '#000')
      .text(p.name);

  if (p.col === 0) {
    svg.append('text')
        .attr('transform', 'translate(30,' + (p.top + H / 2) + ') rotate(-90)')
        .attr('text-anchor', 'middle')
        .style('font-size', '24px').attr('fill', BLUE)
        .text('Ice Draft');
  } else {
    svg.append('text')
        .attr('transform', 'translate(1022,' + (p.top + H / 2) + ') rotate(-90)')
        .attr('text-anchor', 'middle')
        .style('font-size', '25px').attr('fill', ORANGE)
        .text('Vertical Melt (m)');
  }

  if (p.xLabels) {
    svg.append('text')
        .attr('x', p.left + W / 2).attr('y', p.top + H + 63)
        .attr('text-anchor', 'middle')
        .style('font-size', '24.5px').attr('fill', DARK)
        .text('Distance From Channel Center (m)');
  }
});
</script>
</body>
</html>
